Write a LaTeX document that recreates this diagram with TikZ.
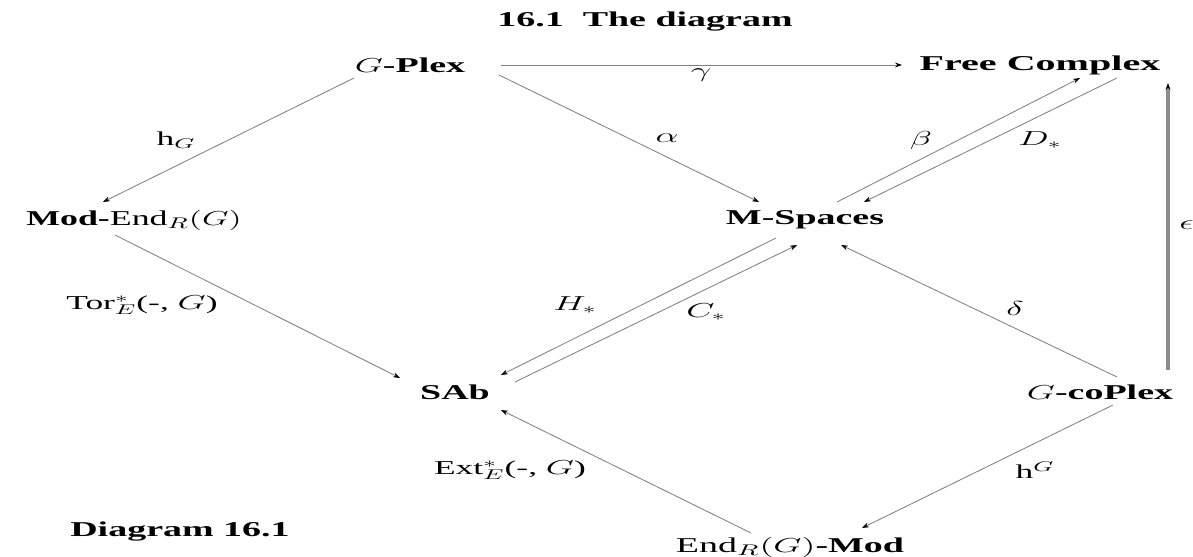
\documentclass[tikz,border=0pt]{standalone}
\usepackage{fontspec}
\setmainfont{Liberation Serif}
\usepackage{graphicx}
\usetikzlibrary{arrows.meta}
\newcommand{\wide}[1]{\scalebox{1.8}[1]{#1}}

\begin{document}
\begin{tikzpicture}[
    x=0.025cm, y=-0.025cm,
    obj/.style={font=\bfseries\fontsize{15}{18}\selectfont, inner sep=0pt},
    lbl/.style={font=\fontsize{14}{17}\selectfont, inner sep=0pt},
    map/.style={draw=gray, line width=0.6pt, -{Stealth[length=5pt, width=3.5pt, black]}},
    thickmap/.style={map, draw=gray!90, line width=2.2pt},
]
    \useasboundingbox (0,0) rectangle (1193,557);

    % objects
    \node[obj] (title) at (645,22) {\wide{16.1\enspace The diagram}};
    \node[obj] (gp)  at (410,65)  {\wide{$G$-Plex}};
    \node[obj] (fc)  at (1040,65) {\scalebox{1.9}[1]{Free Complex}};
    \node[obj] (me)  at (134,220) {\scalebox{1.7}[1]{Mod-\textmd{End$_R(G)$}}};
    \node[obj] (ms)  at (805,220) {\wide{M-Spaces}};
    \node[obj] (sab) at (455,392) {\wide{SAb}};
    \node[obj] (gcp) at (1100,392) {\wide{$G$-coPlex}};
    \node[obj] (em)  at (790,547) {\wide{\textmd{End$_R(G)$}-Mod}};
    \node[obj] (diag) at (180,532) {\wide{Diagram 16.1}};

    % maps
    \draw[map] ([shift={(91,0)}]gp.center) -- ([shift={(-138,0)}]fc.center);
    \draw[map] ([shift={(89,10)}]gp.center) -- ([shift={(-46,-18)}]ms.center);
    \draw[map] ([shift={(-56,13)}]gp.center) -- ([shift={(-31,-18)}]me.center);
    \draw[map] ([shift={(-19,15)}]me.center) -- ([shift={(-55,-14)}]sab.center);
    \draw[map] ([shift={(32,-18)}]ms.center) -- ([shift={(40,13)}]fc.center);
    \draw[map] ([shift={(77,13)}]fc.center) -- ([shift={(59,-18)}]ms.center);
    \draw[thickmap] ([shift={(68,-22)}]gcp.center) -- ([shift={(128,18)}]fc.center);
    \draw[map] ([shift={(17,-15)}]gcp.center) -- ([shift={(36,25)}]ms.center);
    \draw[map] ([shift={(-29,18)}]ms.center) -- ([shift={(46,-17)}]sab.center);
    \draw[map] ([shift={(60,-10)}]sab.center) -- ([shift={(-8,25)}]ms.center);
    \draw[map] ([shift={(13,13)}]gcp.center) -- ([shift={(72,-19)}]em.center);
    \draw[map] ([shift={(-39,-14)}]em.center) -- ([shift={(46,18)}]sab.center);

    % labels
    \node[lbl] (lgamma) at (701,75)  {\wide{$\gamma$}};
    \node[lbl] (lalpha) at (667,138) {\wide{$\alpha$}};
    \node[lbl] (lhl)    at (176,140) {\wide{h$_G$}};
    \node[lbl] (ltor)   at (142,305) {\wide{Tor$^*_E$(-, $G$)}};
    \node[lbl] (lbeta)  at (921,140) {\wide{$\beta$}};
    \node[lbl] (ldual)  at (1040,140) {\wide{$D_*$}};
    \node[lbl, anchor=west] (leps) at (1179,225) {\wide{$\epsilon$}};
    \node[lbl] (ldelta) at (1015,308) {\wide{$\delta$}};
    \node[lbl] (lhom)   at (575,305) {\wide{$H_*$}};
    \node[lbl] (lchain) at (706,312) {\wide{$C_*$}};
    \node[lbl] (lhu)    at (1035,470) {\wide{h$^G$}};
    \node[lbl] (lext)   at (510,470) {\wide{Ext$^*_E$(-, $G$)}};
\end{tikzpicture}
\end{document}
